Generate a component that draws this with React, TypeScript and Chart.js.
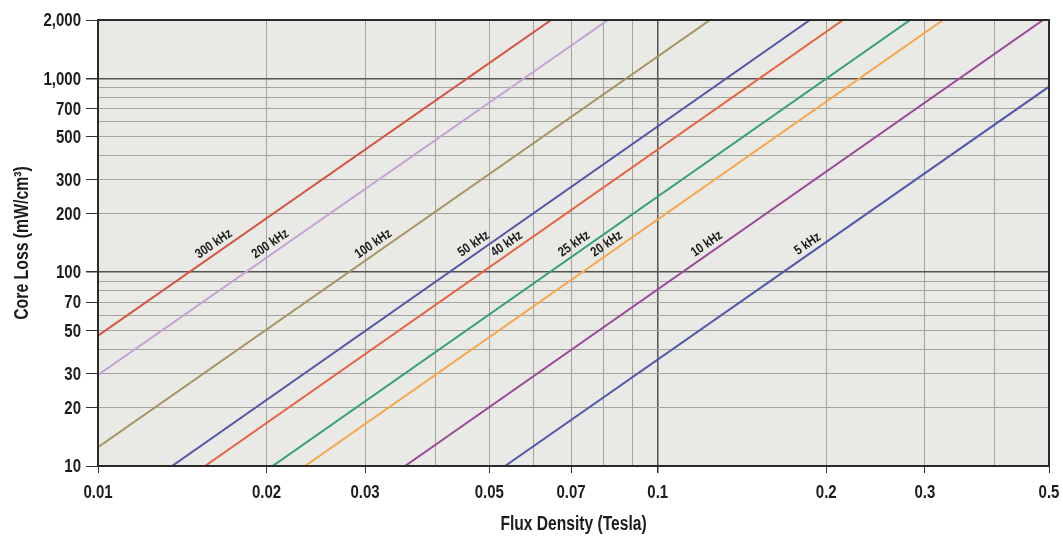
import React, { useEffect, useRef } from 'react';
import { Chart, registerables } from 'chart.js';

Chart.register(...registerables);

// ---- Data ----
const seriesNames = ['300 kHz', '200 kHz', '100 kHz', '50 kHz', '40 kHz', '25 kHz', '20 kHz', '10 kHz', '5 kHz'];
const fluxStart = [0.01, 0.01, 0.01, 0.01356, 0.01553, 0.02051, 0.02343, 0.03536, 0.05336];
const lossStart = [47, 29.5, 12.5, 10, 10, 10, 10, 10, 10];
const fluxEnd = [0.0645, 0.0815, 0.124, 0.187, 0.2143, 0.2824, 0.3234, 0.488, 0.5];
const lossEnd = [2000, 2000, 2000, 2000, 2000, 2000, 2000, 2000, 906];
const labelLoss = [128, 128, 128, 128, 128, 128, 128, 128, 128];
const seriesColors = ['#d4533d', '#c4a3d4', '#a6955f', '#5056a8', '#e8623f', '#33a075', '#f7a64a', '#9a489c', '#5259ad'];

const xTickValues = [0.01, 0.02, 0.03, 0.04, 0.05, 0.06, 0.07, 0.08, 0.09, 0.1, 0.2, 0.3, 0.4, 0.5];
const xLabelValues = [0.01, 0.02, 0.03, 0.05, 0.07, 0.1, 0.2, 0.3, 0.5];
const xLabelTexts = ['0.01', '0.02', '0.03', '0.05', '0.07', '0.1', '0.2', '0.3', '0.5'];
const xMajorValues = [0.1];

const yTickValues = [10, 20, 30, 40, 50, 60, 70, 80, 90, 100, 200, 300, 400, 500, 600, 700, 800, 900, 1000, 2000];
const yLabelValues = [10, 20, 30, 50, 70, 100, 200, 300, 500, 700, 1000, 2000];
const yLabelTexts = ['10', '20', '30', '50', '70', '100', '200', '300', '500', '700', '1,000', '2,000'];
const yMajorValues = [100, 1000];

const xTitle = 'Flux Density (Tesla)';
const yTitle = 'Core Loss (mW/cm³)';

const FONT = "'Liberation Sans', Arial, sans-serif";
const SQUEEZE = 0.79;
const TEXT_COLOR = '#1c1c1c';

function drawSqueezed(ctx: any, text: string, x: number, y: number, align: string, baseline: string, font: string, sx: number, rot = 0) {
  ctx.save();
  ctx.translate(x, y);
  if (rot) ctx.rotate(rot);
  ctx.scale(sx, 1);
  ctx.font = font;
  ctx.textAlign = align;
  ctx.textBaseline = baseline;
  ctx.fillStyle = TEXT_COLOR;
  ctx.fillText(text, 0, 0);
  ctx.restore();
}

const bgPlugin = {
  id: 'plotBg',
  beforeDraw(chart: any) {
    const { ctx, chartArea: a } = chart;
    ctx.save();
    ctx.fillStyle = '#e9e9e5';
    ctx.fillRect(a.left, a.top, a.right - a.left, a.bottom - a.top);
    ctx.restore();
  },
  afterDraw(chart: any) {
    const { ctx, chartArea: a } = chart;
    ctx.save();
    ctx.strokeStyle = '#2a2a2a';
    ctx.lineWidth = 2;
    ctx.strokeRect(a.left, a.top, a.right - a.left, a.bottom - a.top);
    ctx.restore();
  },
};

const axisTextPlugin = {
  id: 'axisText',
  afterDraw(chart: any) {
    const { ctx, chartArea: a } = chart;
    const xs = chart.scales.x;
    const ys = chart.scales.y;
    const tickFont = `bold 19px ${FONT}`;
    xLabelValues.forEach((v, i) => {
      drawSqueezed(ctx, xLabelTexts[i], xs.getPixelForValue(v), a.bottom + 32, 'center', 'alphabetic', tickFont, SQUEEZE);
    });
    yLabelValues.forEach((v, i) => {
      drawSqueezed(ctx, yLabelTexts[i], a.left - 17, ys.getPixelForValue(v) + 1, 'right', 'middle', tickFont, SQUEEZE);
    });
    const titleFont = `bold 20px ${FONT}`;
    drawSqueezed(ctx, xTitle, (a.left + a.right) / 2, a.bottom + 64, 'center', 'alphabetic', titleFont, 0.78);
    drawSqueezed(ctx, yTitle, 28, (a.top + a.bottom) / 2, 'center', 'alphabetic', titleFont, 0.79, -Math.PI / 2);
  },
};

const lineLabelPlugin = {
  id: 'lineLabels',
  afterDatasetsDraw(chart: any) {
    const { ctx } = chart;
    const xs = chart.scales.x;
    const ys = chart.scales.y;
    chart.data.datasets.forEach((ds: any, i: number) => {
      const p0 = ds.data[0];
      const p1 = ds.data[1];
      const x0 = xs.getPixelForValue(p0.x);
      const y0 = ys.getPixelForValue(p0.y);
      const x1 = xs.getPixelForValue(p1.x);
      const y1 = ys.getPixelForValue(p1.y);
      const yl = ys.getPixelForValue(labelLoss[i]);
      const t = (yl - y0) / (y1 - y0);
      const xl = x0 + t * (x1 - x0);
      const ang = Math.atan2(y1 - y0, x1 - x0);
      ctx.save();
      ctx.translate(xl, yl);
      ctx.rotate(ang);
      ctx.translate(0, -9);
      ctx.scale(0.82, 1);
      ctx.font = `bold 13.5px ${FONT}`;
      ctx.textAlign = 'center';
      ctx.textBaseline = 'middle';
      ctx.fillStyle = '#1a1a1a';
      ctx.fillText(seriesNames[i], 0, 0);
      ctx.restore();
    });
  },
};

export default function App() {
  const ref = useRef<HTMLCanvasElement | null>(null);

  useEffect(() => {
    document.body.style.margin = '0';
    const canvas = ref.current;
    if (!canvas) return;
    const chart = new Chart(canvas, {
      type: 'line',
      data: {
        datasets: seriesNames.map((name, i) => ({
          label: name,
          data: [
            { x: fluxStart[i], y: lossStart[i] },
            { x: fluxEnd[i], y: lossEnd[i] },
          ],
          borderColor: seriesColors[i],
          backgroundColor: seriesColors[i],
          borderWidth: 2,
          pointRadius: 0,
          tension: 0,
          fill: false,
        })),
      },
      options: {
        responsive: false,
        animation: false,
        layout: { padding: { left: 0, right: 14, top: 20, bottom: 0 } },
        plugins: {
          legend: { display: false },
          tooltip: { enabled: false },
        },
        scales: {
          x: {
            type: 'logarithmic',
            min: 0.01,
            max: 0.5,
            afterBuildTicks: (s: any) => {
              s.ticks = xTickValues.map((v) => ({ value: v }));
            },
            afterFit: (s: any) => {
              s.height = 72;
            },
            ticks: { display: false, autoSkip: false, maxRotation: 0 },
            grid: {
              drawTicks: true,
              tickLength: 7,
              color: (c: any) => (c.tick && xMajorValues.includes(c.tick.value) ? '#555555' : '#a3a3a0'),
              lineWidth: (c: any) => (c.tick && xMajorValues.includes(c.tick.value) ? 1.5 : 1),
              tickColor: (c: any) => (c.tick && xLabelValues.includes(c.tick.value) ? '#333' : 'rgba(0,0,0,0)'),
            },
            border: { display: true, color: '#2a2a2a', width: 2 },
            title: { display: false },
          },
          y: {
            type: 'logarithmic',
            min: 10,
            max: 2000,
            afterBuildTicks: (s: any) => {
              s.ticks = yTickValues.map((v) => ({ value: v }));
            },
            afterFit: (s: any) => {
              s.width = 98;
            },
            ticks: { display: false, autoSkip: false },
            grid: {
              drawTicks: true,
              tickLength: 12,
              color: (c: any) => (c.tick && yMajorValues.includes(c.tick.value) ? '#555555' : '#a3a3a0'),
              lineWidth: (c: any) => (c.tick && yMajorValues.includes(c.tick.value) ? 1.5 : 1),
              tickColor: (c: any) => (c.tick && yLabelValues.includes(c.tick.value) ? '#333' : 'rgba(0,0,0,0)'),
            },
            border: { display: true, color: '#2a2a2a', width: 2 },
            title: { display: false },
          },
        },
      },
      plugins: [bgPlugin, lineLabelPlugin, axisTextPlugin],
    } as any);
    return () => chart.destroy();
  }, []);

  return (
    <div style={{ width: 1063, height: 538, background: '#fff' }}>
      <canvas ref={ref} width={1063} height={538} style={{ display: 'block' }} />
    </div>
  );
}
